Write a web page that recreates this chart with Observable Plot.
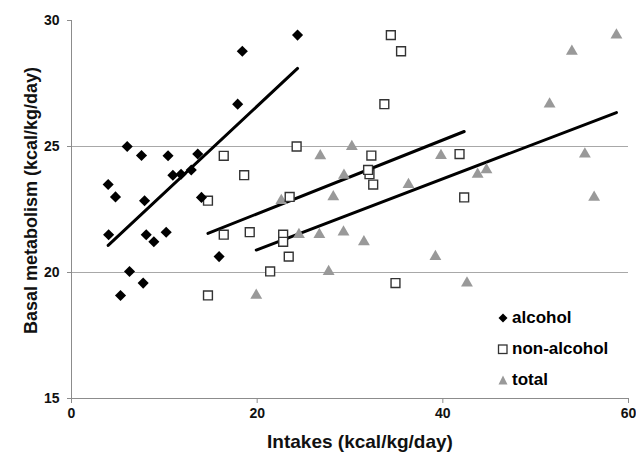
<!DOCTYPE html>
<html>
<head>
<meta charset="utf-8">
<script src="https://cdn.jsdelivr.net/npm/d3@7"></script>
<script src="https://cdn.jsdelivr.net/npm/@observablehq/plot@0.6"></script>
<style>
  html, body { margin: 0; padding: 0; background: #fff; }
  #wrap { position: relative; width: 636px; height: 454px; font-family: "Liberation Sans", Arial, sans-serif; }
  #legend { position: absolute; left: 496px; top: 302px; font-weight: bold; font-size: 17px; color: #000; }
  #legend .row { height: 31px; display: flex; align-items: center; }
  #legend svg { width: 14px; height: 14px; margin-right: 2px; }
</style>
</head>
<body>
<div id="wrap"></div>
<script>
// Basal metabolism of each subject (kcal/kg/day)
const basal = [29.42, 28.78, 26.68, 25.0, 24.64, 24.63, 24.7, 23.9, 24.07, 23.86, 23.49,
               23.0, 22.85, 22.98, 21.5, 21.5, 21.22, 21.6, 20.63, 20.04, 19.58, 19.09];
// Intakes (kcal/kg/day) for each subject
const alcoholIntake = [24.35, 18.4, 17.9, 6.0, 7.54, 10.4, 13.6, 11.8, 12.9, 10.92, 3.95,
                       4.74, 7.87, 14.0, 4.0, 8.05, 8.87, 10.2, 15.9, 6.25, 7.72, 5.28];
const nonAlcoholIntake = [34.4, 35.5, 33.7, 24.25, 32.3, 16.4, 41.8, 32.1, 31.95, 18.6, 32.5,
                          23.5, 14.7, 42.3, 22.8, 16.4, 22.8, 19.2, 23.4, 21.4, 34.9, 14.7];
const totalIntake = [58.7, 53.9, 51.5, 30.2, 39.8, 26.8, 55.3, 43.75, 44.7, 29.35, 36.3,
                     28.2, 22.6, 56.3, 26.7, 24.5, 31.5, 29.3, 39.2, 27.7, 42.6, 19.9];

const seriesNames = ["alcohol", "non-alcohol", "total"];
const xTicks = [0, 20, 40, 60];
const yTicks = [15, 20, 25, 30];
const gridValues = [20, 25];
const xLabel = "Intakes (kcal/kg/day)";
const yLabel = "Basal metabolism (kcal/kg/day)";

const alcohol = basal.map((y, i) => ({x: alcoholIntake[i], y}));
const nonAlcohol = basal.map((y, i) => ({x: nonAlcoholIntake[i], y}));
const total = basal.map((y, i) => ({x: totalIntake[i], y}));

const axisColor = "#8c8c8c";

const chart = Plot.plot({
  width: 636,
  height: 454,
  marginLeft: 71,
  marginRight: 8,
  marginTop: 20,
  marginBottom: 56,
  style: {fontFamily: "'Liberation Sans', Arial, sans-serif", fontSize: "14px", fontWeight: "bold", color: "#111", background: "white"},
  x: {domain: [0, 60]},
  y: {domain: [15, 30]},
  marks: [
    Plot.ruleY(gridValues, {stroke: "#a8a8a8", strokeWidth: 1}),
    Plot.ruleX([0], {stroke: axisColor}),
    Plot.ruleY([15], {stroke: axisColor}),
    Plot.axisX({ticks: xTicks, tickSize: 5, tickPadding: 5, stroke: axisColor, fill: "#111", label: null}),
    Plot.axisY({ticks: yTicks, tickSize: 4, tickPadding: 8, stroke: axisColor, fill: "#111", label: null}),
    Plot.text([xLabel], {frameAnchor: "bottom", dx: 10, dy: 43, textAnchor: "middle", lineAnchor: "middle", fontSize: 19, fontWeight: "bold", fill: "#111"}),
    Plot.text([yLabel], {frameAnchor: "left", rotate: -90, dx: -40, dy: -9, textAnchor: "middle", lineAnchor: "middle", fontSize: 18, fontWeight: "bold", fill: "#111"}),
    Plot.linearRegressionY(alcohol, {x: "x", y: "y", stroke: "#000", strokeWidth: 3, ci: 0}),
    Plot.linearRegressionY(nonAlcohol, {x: "x", y: "y", stroke: "#000", strokeWidth: 3, ci: 0}),
    Plot.linearRegressionY(total, {x: "x", y: "y", stroke: "#000", strokeWidth: 3, ci: 0}),
    Plot.dot(total, {x: "x", y: "y", symbol: "triangle", r: 4.4, fill: "#999", stroke: "none"}),
    Plot.dot(nonAlcohol, {x: "x", y: "y", symbol: "square", r: 5, fill: "white", stroke: "#333", strokeWidth: 1.4}),
    Plot.dot(alcohol, {x: "x", y: "y", symbol: "diamond2", r: 5, fill: "#000", stroke: "none"})
  ]
});

const wrap = document.getElementById("wrap");
wrap.appendChild(chart);

// Legend
const legend = document.createElement("div");
legend.id = "legend";
const symbolSvgs = [
  '<svg viewBox="0 0 14 14"><path d="M7 2.5 L11.5 7 L7 11.5 L2.5 7 Z" fill="#000"/></svg>',
  '<svg viewBox="0 0 14 14"><rect x="2.5" y="3" width="8.5" height="8.5" fill="white" stroke="#333" stroke-width="1.3"/></svg>',
  '<svg viewBox="0 0 14 14"><path d="M7 2.5 L11.5 11.5 L2.5 11.5 Z" fill="#999"/></svg>'
];
seriesNames.forEach((name, i) => {
  const row = document.createElement("div");
  row.className = "row";
  row.innerHTML = symbolSvgs[i] + "<span>" + name + "</span>";
  legend.appendChild(row);
});
wrap.appendChild(legend);
</script>
</body>
</html>
